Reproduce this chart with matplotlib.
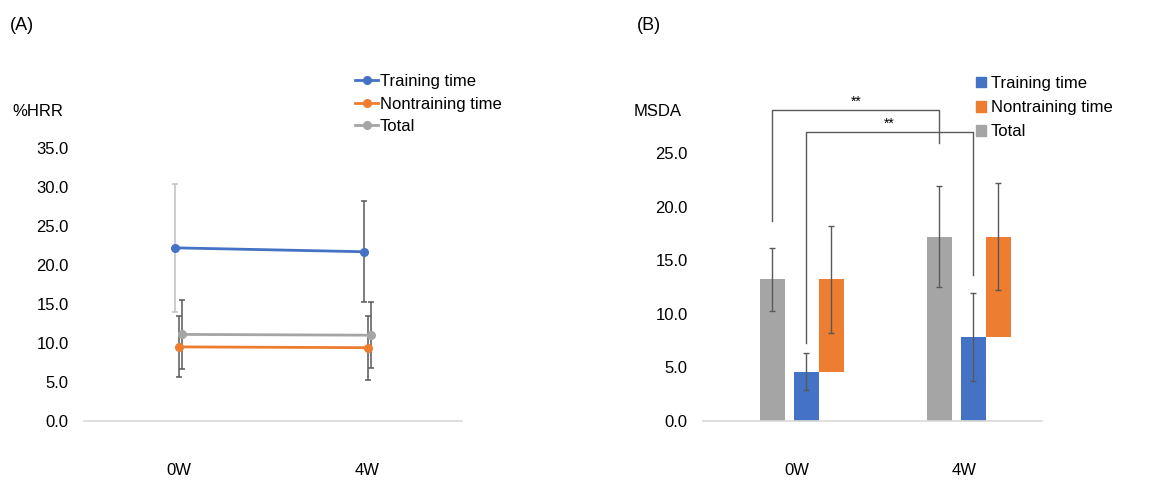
import matplotlib
matplotlib.use("Agg")
import matplotlib.pyplot as plt
from matplotlib.patches import Patch
from matplotlib.lines import Line2D
import numpy as np

plt.rcParams['font.family'] = ['Liberation Sans', 'DejaVu Sans']

# ---- data ----
weeks = ['0W', '4W']
series = ['Training time', 'Nontraining time', 'Total']

# (A) %HRR, mean and SD
hrr_training = [22.2, 21.7]
hrr_training_sd = [8.2, 6.5]
hrr_nontraining = [9.5, 9.4]
hrr_nontraining_sd = [3.9, 4.1]
hrr_total = [11.1, 11.0]
hrr_total_sd = [4.4, 4.2]

# (B) MSDA, mean and SD
msda_total = [13.2, 17.2]
msda_total_sd = [2.9, 4.7]
msda_training = [4.6, 7.8]
msda_training_sd = [1.7, 4.1]
msda_nontraining = [8.6, 9.4]
msda_nontraining_sd = [5.0, 5.0]

blue = '#4472C4'
orange = '#ED7D31'
gray = '#A5A5A5'
err_col = '#595959'
W, H = 1173, 483

fig = plt.figure(figsize=(W / 100, H / 100), dpi=100)

def style_axes(ax):
    for s in ['top', 'right', 'left']:
        ax.spines[s].set_visible(False)
    ax.spines['bottom'].set_color('#d9d9d9')
    ax.spines['bottom'].set_linewidth(1.2)
    ax.tick_params(axis='both', length=0, labelsize=12, colors='black')
    ax.tick_params(axis='y', pad=11)
    ax.tick_params(axis='x', pad=30)
    ax.set_xticks(range(len(weeks)))
    ax.set_xticklabels(weeks)

# ---- panel A ----
axA = fig.add_axes([84 / W, 1 - 421 / H, 378 / W, 273 / H])
x = np.arange(len(weeks))
offs = [-0.021, 0.0, 0.021]
vals = [hrr_training, hrr_nontraining, hrr_total]
sds = [hrr_training_sd, hrr_nontraining_sd, hrr_total_sd]
cols = [blue, orange, gray]
ecols = [['#c0c0c0', err_col], [err_col, err_col], [err_col, err_col]]
for v, sd, c, o, ec in zip(vals, sds, cols, offs, ecols):
    for i in range(len(weeks)):
        axA.errorbar(x[i] + o, v[i], yerr=sd[i], fmt='none', ecolor=ec[i],
                     elinewidth=1.1, capsize=2.5, capthick=1.1, zorder=2)
    axA.plot(x + o, v, color=c, lw=2, marker='o', ms=5.5, zorder=3)
axA.set_xlim(-0.5, 1.5)
axA.set_ylim(0, 35)
axA.set_yticks(np.arange(0, 36, 5))
axA.set_yticklabels([f'{t:.1f}' for t in np.arange(0, 36, 5)])
style_axes(axA)

handlesA = [Line2D([], [], color=c, lw=2, marker='o', ms=5.5) for c in cols]
fig.legend(handlesA, series, loc='upper left', bbox_to_anchor=(355 / W, 1 - 74 / H),
           frameon=False, fontsize=12, handlelength=1.4, handletextpad=0.1,
           labelspacing=0.45, borderpad=0, borderaxespad=0)

fig.text(10 / W, 1 - 25 / H, '(A)', fontsize=13, va='center', ha='left')
fig.text(12 / W, 1 - 111 / H, '%HRR', fontsize=12, va='center', ha='left')

# ---- panel B ----
axB = fig.add_axes([703 / W, 1 - 421 / H, 339 / W, 268 / H])
bw = 0.15
x_tot = x - 0.147
x_tr = x + 0.054
x_nt = x + 0.204
ekw = dict(ecolor=err_col, elinewidth=1.0, capsize=2.5, capthick=1.0)
axB.bar(x_tot, msda_total, bw, color=gray, yerr=msda_total_sd, error_kw=ekw, zorder=2)
axB.bar(x_tr, msda_training, bw, color=blue, yerr=msda_training_sd, error_kw=ekw, zorder=2)
nt_top = np.array(msda_training) + np.array(msda_nontraining)
axB.bar(x_nt, msda_nontraining, bw, bottom=msda_training, color=orange, zorder=2)
axB.errorbar(x_nt, nt_top, yerr=msda_nontraining_sd, fmt='none', zorder=3, **ekw)
axB.set_xlim(-0.563, 1.467)
axB.set_ylim(0, 25)
axB.set_yticks(np.arange(0, 26, 5))
axB.set_yticklabels([f'{t:.1f}' for t in np.arange(0, 26, 5)])
style_axes(axB)

# significance brackets
bk = dict(color='#595959', lw=1.0, clip_on=False, zorder=4)
axB.plot([x_tot[0], x_tot[0], x_tot[1], x_tot[1]], [18.7, 29.0, 29.0, 25.9], **bk)
axB.text((x_tot[0] + x_tot[1]) / 2, 29.1, '**', ha='center', va='bottom', fontsize=10)
axB.plot([x_tr[0], x_tr[0], x_tr[1], x_tr[1]], [7.3, 27.0, 27.0, 13.6], **bk)
axB.text((x_tr[0] + x_tr[1]) / 2, 27.1, '**', ha='center', va='bottom', fontsize=10)

handlesB = [Patch(color=c) for c in cols]
fig.legend(handlesB, series, loc='upper left', bbox_to_anchor=(976 / W, 1 - 76 / H),
           frameon=False, fontsize=12, handlelength=0.6, handleheight=0.6,
           handletextpad=0.3, labelspacing=0.55, borderpad=0, borderaxespad=0)

fig.text(637 / W, 1 - 25 / H, '(B)', fontsize=13, va='center', ha='left')
fig.text(634 / W, 1 - 111 / H, 'MSDA', fontsize=12, va='center', ha='left')

fig.savefig('out.png', dpi=100)
